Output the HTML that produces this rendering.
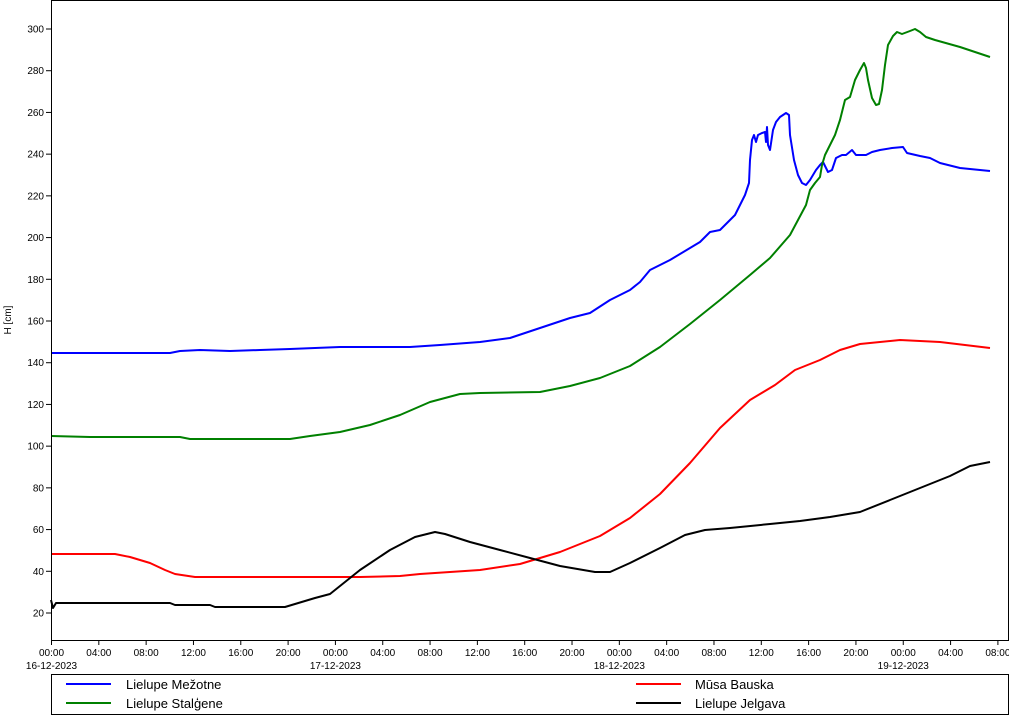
<!DOCTYPE html>
<html><head><meta charset="utf-8"><style>
body{margin:0;background:#fff;}
svg{display:block;font-family:"Liberation Sans",sans-serif;}
</style></head><body>
<svg width="1009" height="715" viewBox="0 0 1009 715" xmlns="http://www.w3.org/2000/svg">
<rect x="0" y="0" width="1009" height="715" fill="#fff"/>
<g id="yt" font-size="10" text-anchor="end" fill="#000"></g>
<g id="xt" font-size="10" text-anchor="middle" fill="#000"></g>
<text x="11" y="320" font-size="10" transform="rotate(-90 11 320)" text-anchor="middle">H [cm]</text>
<g fill="none" stroke-width="2" stroke-linejoin="round">
<polyline stroke="#0000ff" points="51,353 170,353 180,351 200,350 230,351 260,350 290,349 340,347 410,347 440,345 480,342 510,338 540,328 570,318 590,313 610,300 630,290 640,282 650,270 670,260 700,242 710,232 720,230 735,215 745,195 749,183 750,160 752,140 754,135 756,142 758,135 762,133 765,132 766,142 767,127 768,145 770,150 773,130 776,122 780,117 786,113 789,115 790,135 794,160 798,175 802,183 806,185 810,180 816,170 820,165 823,162 828,172 832,170 836,158 842,155 846,155 852,150 856,155 866,155 872,152 880,150 892,148 903,147 907,153 920,156 930,158 940,163 960,168 990,171"/>
<polyline stroke="#008000" points="51,436 90,437 180,437 190,439 290,439 310,436 340,432 370,425 400,415 430,402 460,394 480,393 540,392 570,386 600,378 630,366 660,347 690,324 720,300 750,275 770,258 790,235 806,205 810,190 815,183 820,177 822,165 825,155 830,145 835,135 840,120 845,100 850,97 855,80 860,70 864,63 866,68 868,80 872,98 876,105 879,104 882,90 885,65 888,45 893,36 897,32 902,34 910,31 915,29 920,32 926,37 935,40 960,47 990,57"/>
<polyline stroke="#ff0000" points="51,554 115,554 130,557 150,563 165,570 175,574 195,577 360,577 400,576 420,574 480,570 520,564 560,552 600,536 630,518 660,494 690,463 720,428 750,400 775,385 795,370 820,360 840,350 860,344 900,340 940,342 990,348"/>
<polyline stroke="#000000" points="51,600 53,608 56,603 170,603 175,605 210,605 215,607 285,607 295,604 315,598 330,594 345,582 360,570 390,550 415,537 435,532 445,534 470,542 500,550 530,558 560,566 595,572 610,572 630,563 660,548 685,535 705,530 730,528 770,524 800,521 830,517 860,512 890,500 920,488 950,476 970,466 990,462"/>
</g>
<rect x="51.5" y="0.5" width="957" height="640" fill="none" stroke="#000" stroke-width="1"/>
<rect x="51.5" y="674.5" width="957" height="40" fill="none" stroke="#000" stroke-width="1"/>
<g font-size="13" fill="#000">
<line x1="66" y1="684" x2="111" y2="684" stroke="#0000ff" stroke-width="2"/><text x="126" y="689">Lielupe Mežotne</text>
<line x1="66" y1="703" x2="111" y2="703" stroke="#008000" stroke-width="2"/><text x="126" y="708">Lielupe Stalģene</text>
<line x1="636" y1="684" x2="681" y2="684" stroke="#ff0000" stroke-width="2"/><text x="695" y="689">Mūsa Bauska</text>
<line x1="636" y1="703" x2="681" y2="703" stroke="#000" stroke-width="2"/><text x="695" y="708">Lielupe Jelgava</text>
</g>
<script>
var ns="http://www.w3.org/2000/svg",yt=document.getElementById("yt"),xt=document.getElementById("xt");
function el(p,t,a,txt){var e=document.createElementNS(ns,t);for(var k in a)e.setAttribute(k,a[k]);if(txt)e.textContent=txt;p.appendChild(e);}
for(var v=20;v<=300;v+=20){var y=613-(v-20)*2.0857;el(yt,"line",{x1:46,x2:51,y1:y,y2:y,stroke:"#000"});el(yt,"text",{x:44,y:y+3.5},String(v));}
var d=["16-12-2023","17-12-2023","18-12-2023","19-12-2023"];
for(var h=0;h<=80;h+=4){var x=51.5+11.83*h;el(xt,"line",{x1:x,x2:x,y1:640,y2:645,stroke:"#000"});var hh=h%24;el(xt,"text",{x:x,y:656},(hh<10?"0":"")+hh+":00");if(hh==0)el(xt,"text",{x:x,y:669},d[h/24]);}
</script>
</svg>
</body></html>
